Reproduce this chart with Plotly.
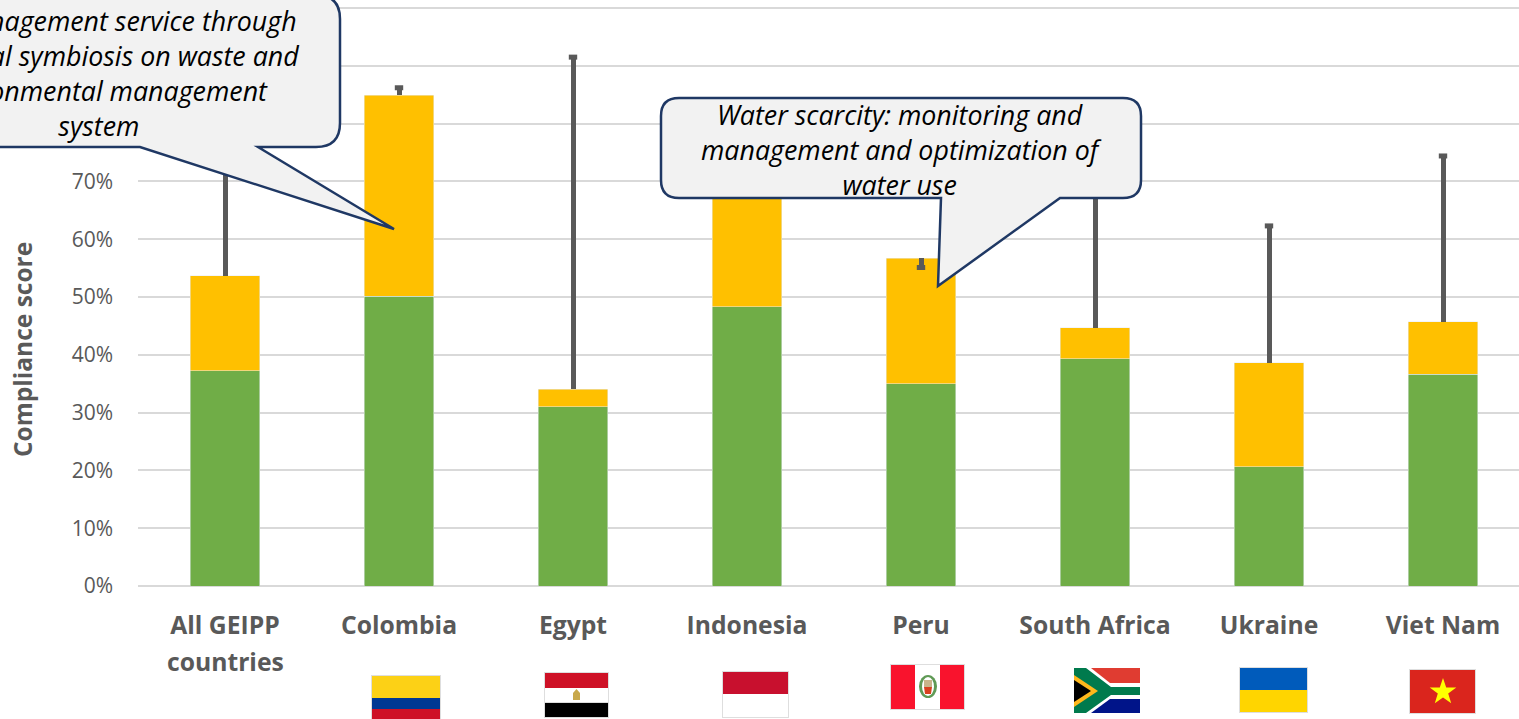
import plotly.graph_objects as go

categories = ["All GEIPP", "Colombia", "Egypt", "Indonesia", "Peru", "South Africa", "Ukraine", "Viet Nam"]
first_label_second_line = "countries"
green_values = [37.2, 50.1, 31.0, 48.3, 35.0, 39.3, 20.6, 36.6]
yellow_values = [16.5, 34.8, 3.0, 27.7, 21.7, 5.4, 18.0, 9.1]
error_plus = [31.0, 1.3, 57.5, 5.0, 0.0, 35.0, 23.7, 28.7]
error_minus = [0, 0, 0, 0, 1.6, 0, 0, 0]
tick_values = list(range(0, 101, 10))
tick_labels = [f"{v}%" for v in tick_values]

W, H = 1519, 719
L, T, B = 138, 5, 586
UNIT = 5.78  # page pixels per percentage point
STEP = 174
GREY = "#595959"
totals = [g + y for g, y in zip(green_values, yellow_values)]
caps = [t + p - m for t, p, m in zip(totals, error_plus, error_minus)]


def px(x):
    return (x - L) / (W - L)


def py(y):
    return (B - y) / (B - T)


def to_path(points):
    # points: list of (cmd, x, y ...) in page pixels, converted to paper coordinates
    out = []
    for p in points:
        cmd, nums = p[0], p[1:]
        if cmd == "Z":
            out.append("Z")
            continue
        pairs = [f"{px(nums[i]):.5f},{py(nums[i + 1]):.5f}" for i in range(0, len(nums), 2)]
        out.append(cmd + " ".join(pairs))
    return " ".join(out)


def callout(x0, y0, x1, y1, r, tail):
    """Rounded rectangle with a wedge leaving its bottom edge."""
    (ta, tb, tc) = tail
    pts = [("M", x0 + r, y0), ("L", x1 - r, y0), ("Q", x1, y0, x1, y0 + r),
           ("L", x1, y1 - r), ("Q", x1, y1, x1 - r, y1),
           ("L", tc[0], tc[1]), ("L", tb[0], tb[1]), ("L", ta[0], ta[1]),
           ("L", x0 + r, y1), ("Q", x0, y1, x0, y1 - r),
           ("L", x0, y0 + r), ("Q", x0, y0, x0 + r, y0), ("Z",)]
    return dict(type="path", xref="paper", yref="paper", path=to_path(pts),
                fillcolor="#F2F2F2", line=dict(color="#1F3864", width=2.5), layer="above")


def rect(x0, y0, x1, y1, color):
    return dict(type="rect", xref="paper", yref="paper", x0=px(x0), x1=px(x1), y0=py(y1), y1=py(y0),
                fillcolor=color, line=dict(width=0, color=color), layer="above")


def poly(points, color):
    pts = [("M", *points[0])] + [("L", *p) for p in points[1:]] + [("Z",)]
    return dict(type="path", xref="paper", yref="paper", path=to_path(pts), fillcolor=color,
                line=dict(width=0, color=color), layer="above")


def ellipse(x0, y0, x1, y1, color):
    return dict(type="circle", xref="paper", yref="paper", x0=px(x0), x1=px(x1), y0=py(y1), y1=py(y0),
                fillcolor=color, line=dict(width=0, color=color), layer="above")


BORDER = "#DEDEDE"
shapes = [
    callout(-142, -5, 340, 147, 24, ((140, 147), (394, 229), (258, 147))),
    callout(661, 98, 1141, 198, 18, ((941, 198), (938, 286), (1060, 198))),
    # Colombia
    rect(371, 675, 441, 725, BORDER),
    rect(372, 676, 440, 698, "#FCD116"), rect(372, 698, 440, 709, "#003893"), rect(372, 709, 440, 725, "#CE1126"),
    # Egypt
    rect(544, 672, 609, 718, BORDER),
    rect(545, 673, 608, 688, "#CE1126"), rect(545, 688, 608, 702, "#FFFFFF"), rect(545, 703, 608, 717, "#000000"),
    poly([(576.5, 689), (580, 693), (580, 700), (573, 700), (573, 693)], "#C8A84B"),
    # Indonesia
    rect(722, 671, 789, 718, BORDER),
    rect(723, 672, 788, 694, "#C8102E"), rect(723, 694, 788, 717, "#FFFFFF"),
    # Peru
    rect(890, 664, 965, 710, BORDER),
    rect(891, 665, 915, 709, "#F9132D"), rect(915, 665, 940, 709, "#FFFFFF"), rect(940, 665, 964, 709, "#F9132D"),
    ellipse(919, 675, 937, 698, "#5F9A55"), ellipse(922, 677, 934, 696, "#FFFFFF"),
    rect(924, 680, 932, 687, "#C9B48A"), poly([(924, 687), (932, 687), (931, 694), (925, 694)], "#D9401F"),
    # South Africa
    rect(1074, 668, 1140, 713, "#FFFFFF"),
    poly([(1091, 668), (1140, 668), (1140, 683), (1110, 683)], "#E03C31"),
    poly([(1091, 713), (1140, 713), (1140, 699), (1110, 699)], "#001489"),
    poly([(1074, 668), (1086, 668), (1111, 687), (1140, 687), (1140, 695), (1111, 695), (1086, 713), (1074, 713)],
         "#007A4D"),
    poly([(1074, 675), (1098, 691), (1074, 707)], "#FFB81C"),
    poly([(1074, 680), (1091, 691), (1074, 702)], "#000000"),
    # Ukraine
    rect(1239, 667, 1308, 713, BORDER),
    rect(1240, 668, 1307, 690, "#005BBB"), rect(1240, 690, 1307, 712, "#FFD500"),
    # Viet Nam
    rect(1409, 669, 1476, 714, BORDER),
    rect(1410, 670, 1475, 713, "#DA251D"),
    poly([(1443, 678), (1446.2, 687.5), (1456.3, 687.6), (1448.2, 693.6), (1451.2, 703.2),
          (1443, 697.4), (1434.8, 703.2), (1437.8, 693.6), (1429.7, 687.6), (1439.8, 687.5)], "#FFFF00"),
]

callout_font = dict(family="Open Sans", size=26.8, color="#000000")
annotations = [
    dict(text="<i>Eco-management service through</i><br><i>industrial symbiosis on waste and</i><br>"
              "<i>environmental management</i><br><i>system</i>",
         xref="paper", yref="paper", x=px(99), y=py(73), xanchor="center", yanchor="middle",
         showarrow=False, align="center", font=callout_font),
    dict(text="<i>Water scarcity: monitoring and</i><br><i>management and optimization of</i><br><i>water use</i>",
         xref="paper", yref="paper", x=px(902), y=py(149), xanchor="center", yanchor="middle",
         showarrow=False, align="center", font=callout_font),
    dict(text="<b>" + first_label_second_line + "</b>", xref="x", yref="paper", x=categories[0], y=py(661),
         xanchor="center", yanchor="middle", showarrow=False,
         font=dict(family="Open Sans", size=24.7, color=GREY)),
    dict(text="<b>Compliance score</b>", xref="paper", yref="paper", x=px(22), y=py(350),
         xanchor="center", yanchor="middle", showarrow=False, textangle=-90,
         font=dict(family="Open Sans", size=24.5, color=GREY)),
]

fig = go.Figure()
fig.add_bar(x=categories, y=green_values, marker_color="#70AD47", width=0.402, showlegend=False)
fig.add_bar(x=categories, y=yellow_values, marker_color="#FFC000", width=0.402, showlegend=False,
            error_y=dict(type="data", symmetric=False, array=error_plus, arrayminus=error_minus,
                         color=GREY, thickness=5, width=0))
fig.add_scatter(x=categories, y=caps, mode="markers", showlegend=False,
                marker=dict(symbol="line-ew", size=6, color=GREY, line=dict(color=GREY, width=5)))

fig.update_layout(
    width=W, height=H, autosize=False, barmode="stack",
    margin=dict(l=L, r=0, t=T, b=H - B, pad=0),
    paper_bgcolor="white", plot_bgcolor="white",
    shapes=shapes, annotations=annotations, showlegend=False,
    font=dict(family="Open Sans", color=GREY),
)
fig.update_xaxes(range=[-0.5, (W - L) / STEP - 0.5], showgrid=False, ticks="", showline=False,
                 zeroline=False, tickfont=dict(family="Open Sans", size=24.7, color=GREY, weight="bold"),
                 ticklabelstandoff=22)
fig.update_yaxes(range=[0, (B - T) / UNIT], tickvals=tick_values, ticktext=tick_labels, showgrid=True,
                 gridcolor="#D9D9D9", gridwidth=1.5, zeroline=True, zerolinecolor="#D9D9D9", zerolinewidth=1.5,
                 ticks="", showline=False, ticklabelstandoff=24,
                 tickfont=dict(family="Open Sans", size=21, color=GREY))

fig.write_html("out.html", config=dict(displayModeBar=False),
               post_script="document.body.style.margin='0';document.documentElement.style.overflow='hidden';")
